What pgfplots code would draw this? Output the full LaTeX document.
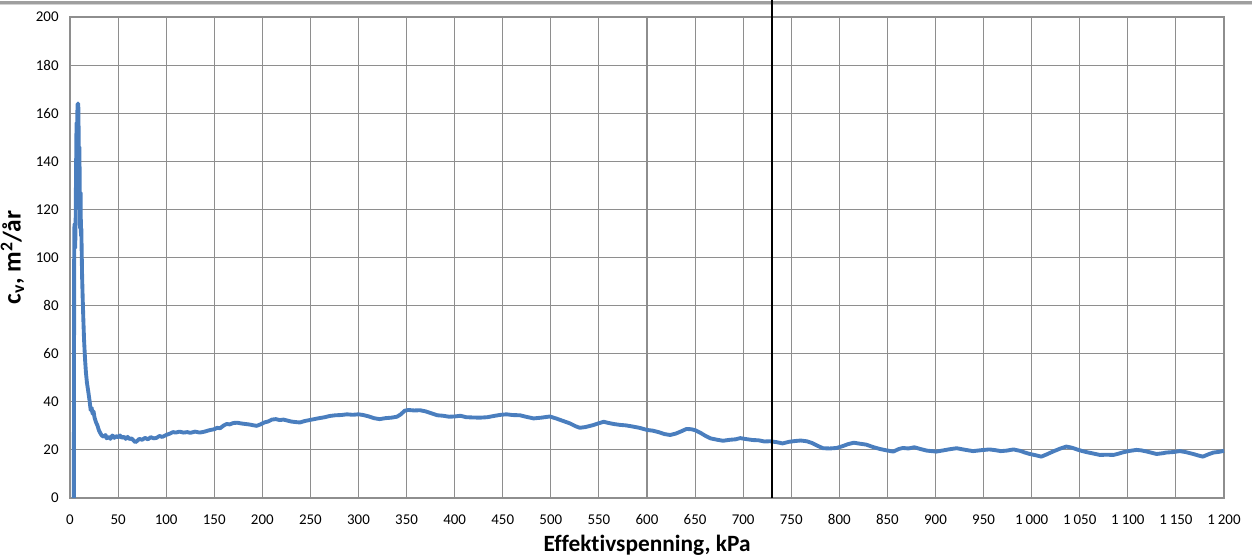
\documentclass[border=0pt]{standalone}
\usepackage{fontspec}
\setmainfont{Carlito}[Ligatures=NoCommon]
\usepackage{pgfplots}
\pgfplotsset{compat=1.18}
\definecolor{cvblue}{HTML}{4A7EBE}
\definecolor{gridgray}{HTML}{8E8E8E}
\begin{document}
\begin{tikzpicture}[x=1pt,y=1pt]
% fixed page frame around the plot area
\useasboundingbox (-52.5pt,-45pt) rectangle (886.5pt,373.5pt);
% thin frame line running along the top
\draw[gray!75, line width=2pt] (-52.5pt,371.5pt) -- (886.5pt,371.5pt);
\draw[gray!35, line width=0.8pt] (-52.5pt,370pt) -- (886.5pt,370pt);
\begin{axis}[
  at={(0,0)}, anchor=south west,
  scale only axis,
  width=865.5pt, height=360.75pt,
  xmin=0, xmax=1200, ymin=0, ymax=200,
  xtick distance=50, ytick distance=20,
  grid=major,
  major grid style={gridgray, line width=0.8pt},
  axis line style={gridgray, line width=0.8pt},
  major tick length=0pt,
  clip=false,
  tick label style={font=\fontsize{11.2pt}{13pt}\selectfont},
  /pgf/number format/assume math mode=true,
  /pgf/number format/1000 sep={\hspace{0.2em}},
  xticklabel style={yshift=-9pt},
  yticklabel style={xshift=-5pt},
  xlabel={\textbf{Effektivspenning, kPa}},
  ylabel={\textbf{c\textsubscript{v}, m\textsuperscript{2}/år}},
  xlabel style={font=\fontsize{17.5pt}{20pt}\selectfont, yshift=-0.5pt},
  ylabel style={font=\fontsize{19pt}{21pt}\selectfont, yshift=2pt},
]
\addplot[cvblue, line width=2.9pt, line join=round] coordinates {
(4.0,0) (4.2,60) (4.4,112) (4.9,114) (5.4,104) (5.9,116) (6.4,140) (6.8,156)
(7.2,142) (7.6,160) (8.0,164) (8.6,164) (9.0,152) (9.4,138) (9.8,146)
(10.2,124) (10.6,112) (11.0,127) (11.4,109) (11.8,112) (12.1,104)
(12.6,92) (13.2,83) (13.9,74) (14.6,66) (15.6,58) (16.6,52) (17.6,48)
(19.1,44) (20.5,40) (21.5,36.5) (22.5,37.5) (23.5,35) (24.5,36) (25.5,33.5)
(27,31.5) (28.5,30.2) (30,28.2) (31.5,27) (33,26) (35,25.5) (37,26.2) (38,24.8)
(40,25.5) (42,24.6) (44,26) (46,25) (48,25.8) (50,25.2) (52,26) (54,25)
(56,25.5) (58,24.6) (60,25.4) (62,24.5) (64,24.8) (66,24) (68,23.2) (70,23.8)
(72,24.6) (75,24.2) (78,25) (81,24.4) (84,25.3) (87,24.8) (90,25) (93,25.8)
(96,25.4) (100,26.2) (104,26.8) (107,27.4) (110,27.2) (114,27.6) (118,27.2)
(122,27.4) (125,27.1) (130,27.6) (135,27.2) (140,27.6) (145,28.2) (150,28.6)
(153,29.2) (156,29) (160,30.2) (163,30.8) (166,30.6) (170,31.2) (174,31.3)
(178,31) (182,30.8) (186,30.6) (190,30.3) (194,30) (198,30.6) (202,31.4)
(206,31.8) (210,32.6) (214,32.8) (218,32.4) (222,32.6) (226,32.2) (230,31.8)
(234,31.6) (239,31.4) (244,32) (249,32.4) (254,32.8) (259,33.2) (265,33.6)
(270,34.1) (276,34.4) (282,34.5) (288,34.8) (294,34.6) (300,34.8) (305,34.5)
(310,34) (316,33.2) (322,32.8) (328,33.2) (334,33.4) (340,33.8) (344,34.8)
(348,36.3) (352,36.6) (358,36.4) (364,36.5) (370,36) (376,35.2) (382,34.4)
(388,34.2) (394,33.8) (400,33.9) (406,34.2) (412,33.6) (418,33.5) (426,33.4)
(434,33.6) (442,34.2) (448,34.6) (454,34.8) (460,34.5) (468,34.4) (474,33.8)
(482,33.1) (490,33.4) (499,33.9) (506,33) (513,32) (520,31) (526,29.8)
(530,29.2) (536,29.5) (544,30.3) (550,31.1) (555,31.7) (560,31.2) (565,30.8)
(572,30.4) (578,30.2) (584,29.8) (592,29.2) (600,28.3) (606,28) (612,27.4)
(618,26.6) (624,26.2) (630,26.8) (636,27.8) (641,28.7) (646,28.6) (650,28.2)
(656,27) (661,25.8) (666,24.8) (672,24.3) (679,23.8) (686,24.2) (692,24.4)
(697,24.9) (703,24.5) (710,24.1) (716,24) (722,23.5) (728,23.6) (735,23.2)
(741,22.7) (748,23.4) (754,23.7) (760,23.9) (766,23.6) (772,22.8) (778,21.6)
(783,20.7) (790,20.6) (797,20.8) (803,21.5) (809,22.4) (815,23) (821,22.6)
(828,22.2) (835,21.2) (842,20.4) (848,19.9) (856,19.3) (862,20.4) (866,20.8)
(872,20.6) (878,21.1) (884,20.4) (891,19.7) (896,19.5) (901,19.3) (908,19.8)
(915,20.3) (922,20.7) (930,20.1) (939,19.5) (948,19.9) (956,20.2) (962,19.9)
(968,19.5) (974,19.7) (981,20.2) (988,19.6) (993,18.9) (998,18.3) (1004,17.8)
(1010,17.2) (1016,18.2) (1022,19.3) (1030,20.6) (1036,21.4) (1042,20.9)
(1047,20.2) (1052,19.6) (1058,19) (1064,18.5) (1071,17.9) (1078,18) (1085,17.9)
(1090,18.4) (1095,19) (1102,19.6) (1109,20) (1114,19.8) (1120,19.3) (1126,18.7)
(1130,18.3) (1136,18.6) (1140,18.9) (1147,19.1) (1154,19.5) (1160,19.1)
(1168,18.3) (1174,17.6) (1178,17.2) (1184,18.2) (1189,18.9) (1195,19.2)
(1200,19.6)
};
% reference stress marker
\draw[black, line width=2.2pt] (axis cs:730,0) -- (axis cs:730,207.2);
\end{axis}
\end{tikzpicture}
\end{document}
